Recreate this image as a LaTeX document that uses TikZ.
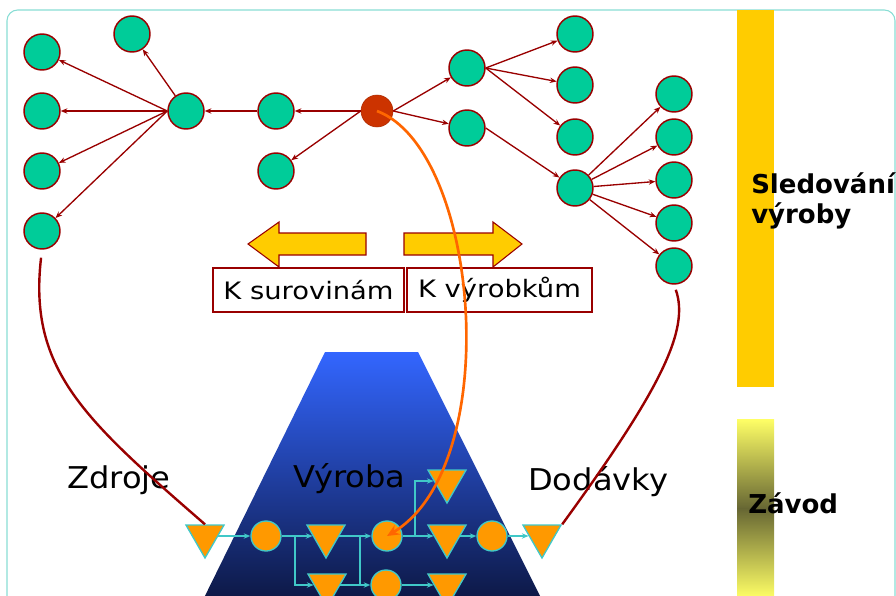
\documentclass[tikz,border=0pt]{standalone}
\usepackage{fontspec}
\setmainfont{DejaVu Sans}
\newfontfamily\labfont{DejaVu Sans}[FakeStretch=1.07]
\newfontfamily\boxfont{DejaVu Sans}[FakeStretch=1.14]
\usetikzlibrary{arrows.meta, shapes.geometric}
\definecolor{leafgreen}{HTML}{00CC99}
\definecolor{linkred}{HTML}{990000}
\definecolor{rootred}{HTML}{CC3300}
\definecolor{flowteal}{HTML}{40C8C8}
\definecolor{partorange}{HTML}{FF9900}
\definecolor{traceorange}{HTML}{FF6600}
\definecolor{baryellow}{HTML}{FFCC00}
\definecolor{framecyan}{HTML}{88DDD4}
\definecolor{prodtop}{HTML}{3366FF}
\definecolor{prodbottom}{HTML}{0C1640}
\definecolor{plantlight}{HTML}{FFFF66}
\definecolor{plantdark}{HTML}{666633}
\tikzset{
    leaf/.style={circle, draw=linkred, fill=leafgreen, line width=1.1pt, minimum size=27pt, inner sep=0pt},
    root/.style={circle, fill=rootred, draw=rootred!85!black, minimum size=24pt, inner sep=0pt},
    link/.style={draw=linkred, line width=1pt, -{Stealth[length=5pt,width=4pt]}},
    ball/.style={circle, draw=flowteal, fill=partorange, line width=1pt, minimum size=22.5pt, inner sep=0pt},
    store/.style={regular polygon, regular polygon sides=3, shape border rotate=180, draw=flowteal, fill=partorange, line width=1pt, minimum size=33pt, inner sep=0pt},
    flow/.style={draw=flowteal, line width=1.3pt, -{Stealth[length=5pt,width=4pt]}},
    arc/.style={draw=linkred, line width=1.8pt},
    tag/.style={draw=linkred, line width=1.1pt, fill=white, minimum height=33pt, inner sep=0pt, font=\boxfont\fontsize{18}{20}\selectfont},
    big/.style={anchor=base west, inner sep=0pt, font=\labfont\fontsize{22.5}{26}\selectfont},
    side/.style={anchor=base west, inner sep=0pt, font=\bfseries\fontsize{19.5}{22}\selectfont},
    pointer/.style={draw=linkred, fill=baryellow, line width=0.8pt}
}
\begin{document}
\begin{tikzpicture}[x=0.75pt, y=-0.75pt]
  \useasboundingbox (0,0) rectangle (896,596);
  \clip (0,0) rectangle (896,596);
  \draw[framecyan, line width=0.8pt, rounded corners=8pt] (7,10) rectangle (895,640);
  % bars on the right
  \fill[baryellow] (737,10) rectangle (774,387);
  \shade[top color=plantlight, bottom color=plantdark] (737,419) rectangle (774,509);
  \shade[top color=plantdark, bottom color=plantlight] (737,508) rectangle (774,598);
  \node[side] (track) at (751,193) {Sledování};
  \node[side] (track2) at (751,223) {výroby};
  \node[side] (plant) at (748,513) {Závod};
  % production
  \shade[top color=prodtop, bottom color=prodbottom] (325,352) -- (418,352) -- (545,606) -- (200,606) -- cycle;
  % tree
  \node[leaf] (l0) at (132,34) {};
  \node[leaf] (l1) at (42,52) {};
  \node[leaf] (l2) at (42,111) {};
  \node[leaf] (l3) at (42,171) {};
  \node[leaf] (l4) at (42,231) {};
  \node[leaf] (h1) at (186,111) {};
  \node[leaf] (m1) at (276,111) {};
  \node[leaf] (m2) at (276,171) {};
  \node[root] (root) at (377,111) {};
  \node[leaf] (n1) at (467,68) {};
  \node[leaf] (n2) at (467,128) {};
  \node[leaf] (p1) at (575,34) {};
  \node[leaf] (p2) at (575,85) {};
  \node[leaf] (p3) at (575,137) {};
  \node[leaf] (h2) at (575,188) {};
  \node[leaf] (r1) at (674,94) {};
  \node[leaf] (r2) at (674,137) {};
  \node[leaf] (r3) at (674,180) {};
  \node[leaf] (r4) at (674,223) {};
  \node[leaf] (r5) at (674,266) {};
  \draw[link] (h1) -- (l0);
  \draw[link] (h1.west) -- (l1);
  \draw[link] (h1.west) -- (l2);
  \draw[link] (h1.west) -- (l3);
  \draw[link] (h1.west) -- (l4);
  \draw[link] (m1) -- (h1);
  \draw[link] (root.west) -- (m1);
  \draw[link] (root.west) -- (m2);
  \draw[link] (root.east) -- (n1);
  \draw[link] (root.east) -- (n2);
  \draw[link] (n1.east) -- (p1);
  \draw[link] (n1.east) -- (p2);
  \draw[link] (n1.east) -- (p3);
  \draw[link] (n2.east) -- (h2);
  \draw[link] (h2) -- (r1);
  \draw[link] (h2) -- (r2);
  \draw[link] (h2) -- (r3);
  \draw[link] (h2) -- (r4);
  \draw[link] (h2) -- (r5);
  % direction arrows and boxes
  \draw[pointer] (248,244) -- (279,222) -- (279,233) -- (366,233) -- (366,255) -- (279,255) -- (279,267) -- cycle;
  \draw[pointer] (522,244) -- (493,222) -- (493,233) -- (404,233) -- (404,255) -- (493,255) -- (493,267) -- cycle;
  \node[tag, minimum width=143pt] (raw) at (308.5,290) {K surovinám};
  \node[tag, minimum width=139pt] (goods) at (499.5,290) {K výrobkům};
  % flow
  \node[big] (srclab) at (67,488) {Zdroje};
  \node[big] (prodlab) at (293,487) {Výroba};
  \node[big] (dstlab) at (528,490) {Dodávky};
  \node[store] (src) at (205,536) {};
  \node[ball] (c1) at (266,536) {};
  \node[store] (t2) at (326,536) {};
  \node[ball] (c2) at (387,536) {};
  \node[store] (t3) at (447,536) {};
  \node[ball] (c3) at (492,536) {};
  \node[store] (dst) at (542,536) {};
  \node[store] (t1) at (447,481) {};
  \node[store] (t4) at (327,585) {};
  \node[ball] (c4) at (386,585) {};
  \node[store] (t5) at (447,585) {};
  \coordinate (j1) at (295,536);
  \coordinate (j2) at (360,536);
  \coordinate (j2b) at (360,585);
  \coordinate (j3) at (415,536);
  \draw[flow] (src) -- (c1);
  \draw[flow] (c1) -- (t2);
  \draw[flow] (j1) |- (t4);
  \draw[flow] (t2) -- (c2);
  \draw[flow] (t4) -- (c4);
  \draw[flowteal, line width=1.3pt] (j2) -- (j2b);
  \draw[flow] (c2) -- (t3);
  \draw[flow] (j3) |- (t1);
  \draw[flow] (t3) -- (c3);
  \draw[flow] (c3) -- (dst);
  \draw[flow] (c4) -- (t5);
  % links between the two levels
  \draw[arc, shorten <=6pt] (l4.south) .. controls (28,370) and (85,420) .. (src.north);
  \draw[arc, shorten <=4pt] (r5.south) .. controls (690,330) and (660,390) .. (dst.corner 2);
  \draw[traceorange, line width=2pt, -{Stealth[length=9pt,width=8pt]}] (root.center) .. controls (480,150) and (505,465) .. (c2.center);
\end{tikzpicture}
\end{document}
